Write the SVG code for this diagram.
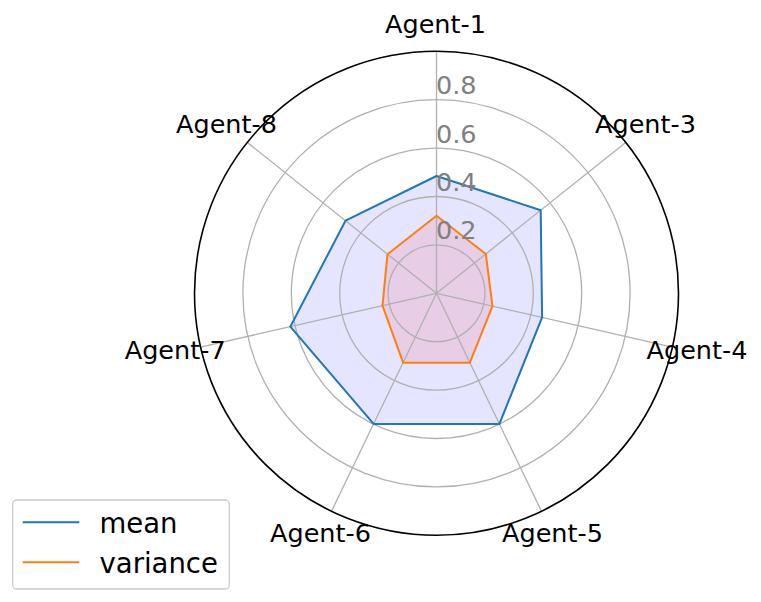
<svg xmlns="http://www.w3.org/2000/svg" width="761" height="602" viewBox="0 0 761 602">
<style>
.grid{fill:none;stroke:#b0b0b0;stroke-width:1.3}
.lbl{font-family:"DejaVu Sans",sans-serif;font-size:25.5px;fill:#000;text-anchor:middle}
.tick{font-family:"DejaVu Sans",sans-serif;font-size:25.5px;fill:#808080}
.leg{font-family:"DejaVu Sans",sans-serif;font-size:27.5px;fill:#000}
</style>
<rect width="761" height="602" fill="#fff"/>
<g id="fills">
<polygon points="436.5,176.0 540.7,210.2 542.1,317.4 499.4,423.9 373.6,423.9 290.3,326.7 345.5,220.7" fill="#0000ff" fill-opacity="0.1"/>
<polygon points="436.5,215.7 485.8,254.0 492.5,306.1 469.9,362.7 403.1,362.7 382.5,305.6 387.5,254.2" fill="#ff0000" fill-opacity="0.1"/>
</g>
<g id="grid">
<circle class="grid" cx="436.5" cy="293.3" r="48.4"/>
<circle class="grid" cx="436.5" cy="293.3" r="96.8"/>
<circle class="grid" cx="436.5" cy="293.3" r="145.2"/>
<circle class="grid" cx="436.5" cy="293.3" r="193.6"/>
<path class="grid" d="M436.5,293.3L436.5,51.3M436.5,293.3L625.7,142.4M436.5,293.3L672.4,347.1M436.5,293.3L541.5,511.3M436.5,293.3L331.5,511.3M436.5,293.3L200.6,347.1M436.5,293.3L247.3,142.4"/>
</g>
<g id="connectors">
<polygon id="mean-line" points="436.5,176.0 540.7,210.2 542.1,317.4 499.4,423.9 373.6,423.9 290.3,326.7 345.5,220.7" fill="none" stroke="#1f77b4" stroke-width="2" stroke-linejoin="round"/>
<polygon id="variance-line" points="436.5,215.7 485.8,254.0 492.5,306.1 469.9,362.7 403.1,362.7 382.5,305.6 387.5,254.2" fill="none" stroke="#ff7f0e" stroke-width="2" stroke-linejoin="round"/>
</g>
<circle id="spine" cx="436.5" cy="293.3" r="242" fill="none" stroke="#000" stroke-width="1.6"/>
<g id="ticks">
<text class="tick" x="436" y="94.3">0.8</text>
<text class="tick" x="436" y="142.7">0.6</text>
<text class="tick" x="436" y="190.7">0.4</text>
<text class="tick" x="436" y="239.3">0.2</text>
</g>
<g id="agent-1"><text class="lbl" x="435.5" y="33">Agent-1</text></g>
<g id="agent-3"><text class="lbl" x="645.5" y="133.3">Agent-3</text></g>
<g id="agent-4"><text class="lbl" x="697" y="359">Agent-4</text></g>
<g id="agent-5"><text class="lbl" x="552.5" y="541.7">Agent-5</text></g>
<g id="agent-6"><text class="lbl" x="320.5" y="541.7">Agent-6</text></g>
<g id="agent-7"><text class="lbl" x="175.2" y="359">Agent-7</text></g>
<g id="agent-8"><text class="lbl" x="226.5" y="133.3">Agent-8</text></g>
<g id="legend">
<rect x="12.7" y="500" width="216.6" height="89" rx="4" ry="4" fill="#fff" fill-opacity="0.8" stroke="#cccccc" stroke-width="1.3"/>
<line x1="22.7" y1="522.3" x2="79.3" y2="522.3" stroke="#1f77b4" stroke-width="2"/>
<line x1="22.7" y1="562.3" x2="79.3" y2="562.3" stroke="#ff7f0e" stroke-width="2"/>
<text class="leg" x="99.5" y="533.3">mean</text>
<text class="leg" x="99.5" y="572.7">variance</text>
</g>
</svg>
